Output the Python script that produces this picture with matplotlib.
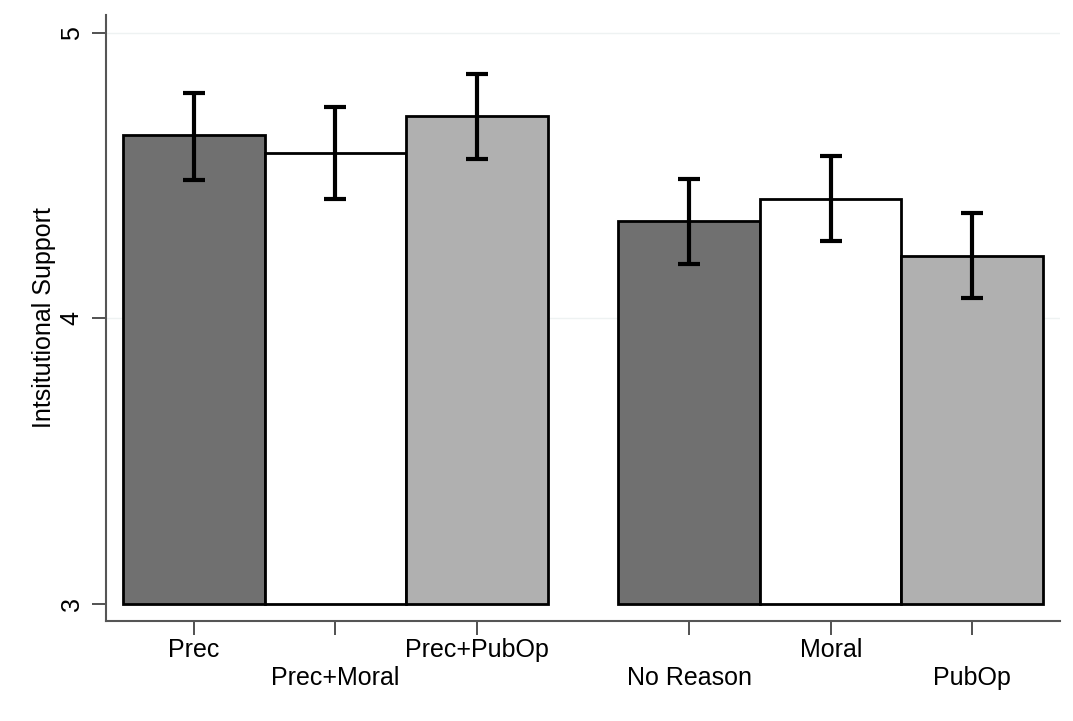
import matplotlib
matplotlib.use("Agg")
import matplotlib.pyplot as plt
import numpy as np

categories = ["Prec", "Prec+Moral", "Prec+PubOp", "No Reason", "Moral", "PubOp"]
means = [4.643, 4.58, 4.71, 4.34, 4.42, 4.22]
ci_low = [4.485, 4.42, 4.56, 4.19, 4.27, 4.07]
ci_high = [4.79, 4.74, 4.856, 4.49, 4.57, 4.37]
colors = ["#707070", "#ffffff", "#b0b0b0", "#707070", "#ffffff", "#b0b0b0"]
yticks = [3, 4, 5]

plt.rcParams['font.family'] = ['Liberation Sans', 'DejaVu Sans']

fig = plt.figure(figsize=(10.73, 7.21), dpi=100)
ax = fig.add_axes([106/1073, 1-621/721, (1060-106)/1073, (621-15)/721])

x = np.array([0, 1, 2, 3.5, 4.5, 5.5])
means_a = np.array(means)
base = 3.0
ax.bar(x, means_a - base, bottom=base, width=1.0, color=colors,
       edgecolor="black", linewidth=2, zorder=2)
yerr = np.array([means_a - np.array(ci_low), np.array(ci_high) - means_a])
ax.errorbar(x, means_a, yerr=yerr, fmt="none", ecolor="black",
            elinewidth=3, capsize=8, capthick=3, zorder=3)

ax.set_xlim(-0.62, 6.12)
ax.set_ylim(2.94, 5.063)
ax.set_yticks(yticks)
ax.set_yticklabels([str(v) for v in yticks], rotation=90, va="center", fontsize=18)
for v in yticks[1:]:
    ax.axhline(v, color="#eef2f2", linewidth=1, zorder=0)

ax.set_xticks(x)
ax.set_xticklabels([])
for i, (xi, lab) in enumerate(zip(x, categories)):
    off = -0.048 if i % 2 == 0 else -0.094
    ax.text(xi, off, lab, transform=ax.get_xaxis_transform(), ha="center",
            va="center", fontsize=18)

ax.tick_params(axis="both", length=10, width=1.2, color="#333333")
ax.tick_params(axis="y", pad=6)
for s in ["top", "right"]:
    ax.spines[s].set_visible(False)
for s in ["left", "bottom"]:
    ax.spines[s].set_color("#555555")
    ax.spines[s].set_linewidth(1.5)

ax.set_ylabel("Intsitutional Support", fontsize=18, labelpad=3)

fig.savefig("out.png", dpi=100)
